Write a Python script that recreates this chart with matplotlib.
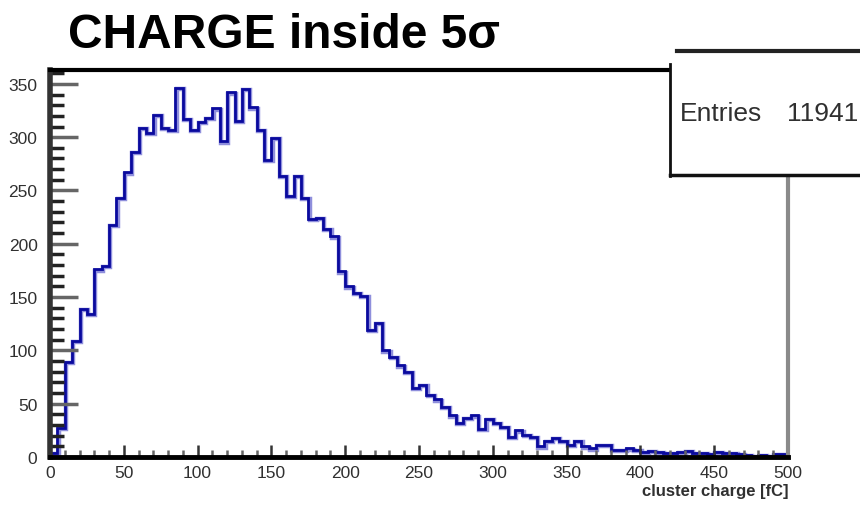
import matplotlib
matplotlib.use("Agg")
import numpy as np
from matplotlib import pyplot as plt
from matplotlib import transforms
from matplotlib.patches import Rectangle
from matplotlib.ticker import MultipleLocator

# cluster charge histogram, 5 fC bins from 0 to 500
edges = np.arange(0, 505, 5)
counts = [
    4, 27, 89, 109, 139, 134, 176, 179, 218, 243,
    267, 286, 309, 304, 321, 309, 307, 346, 317, 307,
    314, 318, 327, 296, 342, 315, 345, 328, 307, 279,
    299, 264, 245, 264, 243, 223, 224, 214, 207, 174,
    160, 154, 151, 119, 126, 100, 94, 86, 80, 65,
    68, 58, 54, 47, 39, 32, 37, 39, 26, 36,
    32, 28, 19, 25, 21, 19, 10, 15, 18, 15,
    11, 15, 10, 8, 11, 11, 7, 7, 8, 7,
    5, 6, 5, 4, 4, 5, 6, 4, 4, 3,
    5, 4, 4, 3, 2, 1, 2, 1, 3, 3,
]
entries = 11941
title = "CHARGE inside 5σ"
xlabel = "cluster charge [fC]"

sans = ["Liberation Sans", "DejaVu Sans"]

fig = plt.figure(figsize=(8.6, 5.1), dpi=100)
ax = fig.add_axes([50/860, 1-458/510, 738/860, 387/510])

# soft halo under the histogram line
halo = ax.transData + transforms.ScaledTranslation(1.2/100, -1.2/100, fig.dpi_scale_trans)
ax.stairs(counts, edges, color="#8f8fdc", lw=3.2, transform=halo)
ax.stairs(counts, edges, color="#0a0a9e", lw=2.0)

ax.set_xlim(0, 500)
ax.set_ylim(0, 363)

ax.xaxis.set_major_locator(MultipleLocator(50))
ax.xaxis.set_minor_locator(MultipleLocator(10))
ax.yaxis.set_major_locator(MultipleLocator(50))
ax.yaxis.set_minor_locator(MultipleLocator(10))
ax.tick_params(axis="y", which="major", direction="in", length=20, width=2.5, color="#666666")
ax.tick_params(axis="y", which="minor", direction="in", length=10, width=2.5, color="#222222")
ax.tick_params(axis="x", which="major", direction="in", length=9, width=1.8, color="#333333")
ax.tick_params(axis="x", which="minor", direction="in", length=5, width=1.8, color="#666666")
ax.tick_params(axis="both", which="major", labelsize=12.5, labelcolor="#303030", pad=6)
ax.tick_params(axis="y", pad=9)
for lab in ax.get_xticklabels() + ax.get_yticklabels():
    lab.set_family(sans)

ax.spines["top"].set_linewidth(3)
ax.spines["top"].set_color("black")
ax.spines["bottom"].set_linewidth(3.5)
ax.spines["bottom"].set_color("black")
ax.spines["left"].set_linewidth(4)
ax.spines["left"].set_color("#333333")
ax.spines["right"].set_linewidth(3)
ax.spines["right"].set_color("#8a8a8a")

ax.set_xlabel(xlabel, family=sans, fontsize=12, fontweight="bold",
              color="#303030", loc="right", labelpad=2)

fig.text(68/860, 1-48/510, title, fontsize=34.5, fontweight="bold",
         family=sans, va="baseline")

# statistics box in the top right corner
box = Rectangle((670/860, 1-177/510), 200/860, 126/510, transform=fig.transFigure,
                facecolor="white", edgecolor="none", zorder=5)
fig.add_artist(box)
fig.add_artist(plt.Line2D([677/860, 1], [1-52/510, 1-52/510], transform=fig.transFigure,
                          color="#222222", lw=3, zorder=6))
fig.add_artist(plt.Line2D([670/860, 670/860], [1-65/510, 1-177/510], transform=fig.transFigure,
                          color="#111111", lw=2, zorder=6))
fig.add_artist(plt.Line2D([670/860, 1], [1-176/510, 1-176/510], transform=fig.transFigure,
                          color="#111111", lw=2.5, zorder=6))
fig.text(680/860, 1-114/510, "Entries", fontsize=19, family=sans,
         color="#303030", va="center", zorder=7)
fig.text(858/860, 1-114/510, str(entries), fontsize=19, family=sans,
         color="#303030", va="center", ha="right", zorder=7)

fig.savefig("out.png", dpi=100, facecolor="white")
